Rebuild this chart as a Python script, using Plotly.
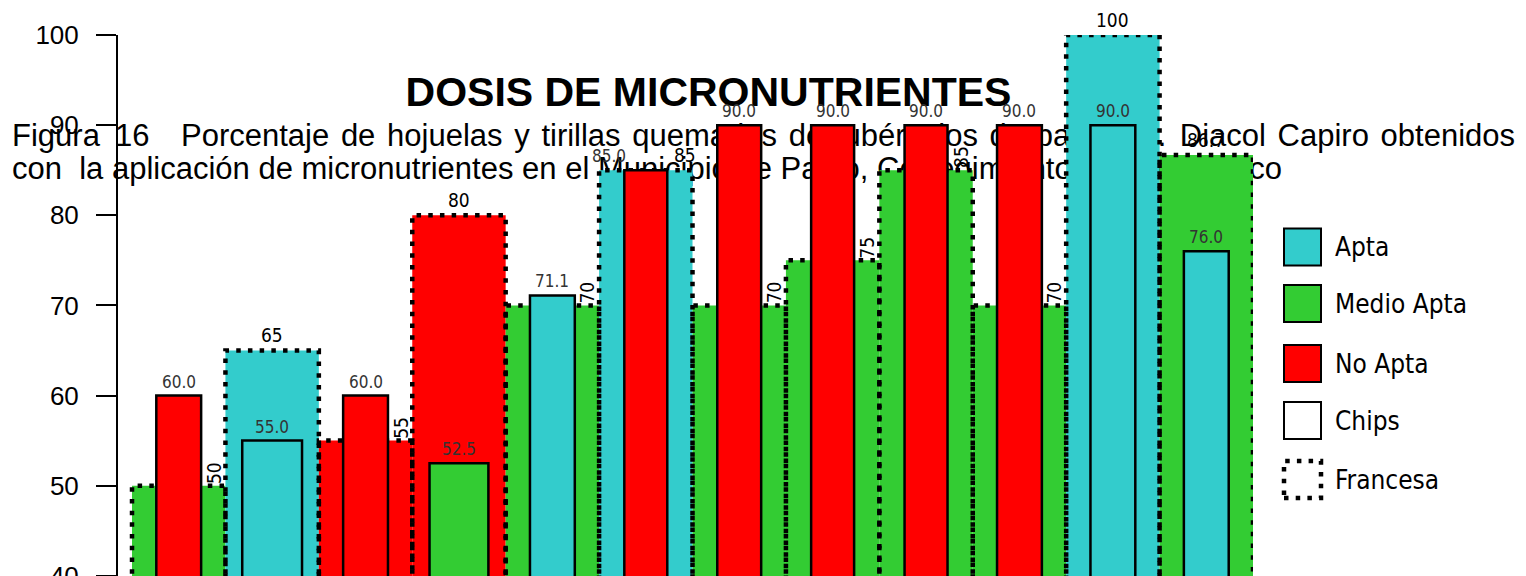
import plotly.graph_objects as go

# ---------------- data ----------------
tratamientos = list(range(1, 13))
francesa_valores = [50, 65, 55, 80, 70, 85, 70, 75, 85, 70, 100, 86.7]
francesa_clase = ["Medio Apta", "Apta", "No Apta", "No Apta", "Medio Apta", "Apta",
                  "Medio Apta", "Medio Apta", "Medio Apta", "Medio Apta", "Apta", "Medio Apta"]
chips_valores = [60.0, 55.0, 60.0, 52.5, 71.1, 85.0, 90.0, 90.0, 90.0, 90.0, 90.0, 76.0]
chips_clase = ["No Apta", "Apta", "No Apta", "Medio Apta", "Apta", "No Apta",
               "No Apta", "No Apta", "No Apta", "No Apta", "Apta", "Apta"]
clases = ["Apta", "Medio Apta", "No Apta"]
series = ["Chips", "Francesa"]
y_ticks = [40, 50, 60, 70, 80, 90, 100]
titulo = "DOSIS DE MICRONUTRIENTES"
pie_linea1_resto = "Porcentaje de hojuelas y tirillas quemadas de tubérculos de papa var. Diacol Capiro obtenidos"
pie_linea2 = "con\u00a0 la aplicación de micronutrientes en el Municipio de Pasto, Corregimiento de Catambuco"

# ---------------- style ----------------
colores = {"Apta": "#33CCCC", "Medio Apta": "#33CC33", "No Apta": "#FF0000"}
chips_ancho = [0.48, 0.64, 0.48, 0.63, 0.48, 0.46, 0.47, 0.46, 0.46, 0.48, 0.48, 0.48]
modo_etiqueta_francesa = ["rot", "top", "rot", "top", "rot", "right",
                          "rot", "rot", "rot", "rot", "top", "top"]
desplaz_etiqueta_chips = [0, 0, 0, 0, 0, -37, 0, 0, 0, 0, 0, 0]
NARROW = "Liberation Sans Narrow, Arial Narrow, DejaVu Sans Condensed, sans-serif"
ARIAL = "Liberation Sans, Arial, sans-serif"
DOT = "4.5px,7.2px"

OFF = 8  # page body margin of the html page
W, H = 1526, 576
ML, MR, MT, MB = 118 - OFF, 1526 - 1253 + OFF, 35 - OFF, OFF
XMIN, XMAX = 0.35, 12.5
YMIN, YMAX = 39.98, 100
PW, PH = W - ML - MR, H - MT - MB


def px_x(p):  # screen pixel -> paper
    return (p - OFF - ML) / PW


def px_y(p):
    return (H - MB - (p - OFF)) / PH


# Arial / Liberation Sans advance widths (per 1000 em)
AW = dict(zip("abcdefghijklmnopqrstuvwxyz",
              [556, 556, 500, 556, 556, 278, 556, 556, 222, 222, 500, 222, 833,
               556, 556, 556, 556, 333, 500, 278, 556, 500, 722, 500, 500, 500]))
AW.update({"é": 556, "ó": 556, ".": 278, ",": 278, " ": 278, "D": 722, "C": 722,
           "P": 667, "F": 611, "M": 833, "1": 556, "6": 556})


def ancho(txt, size):
    return sum(AW.get(c, 556) for c in txt) * size / 1000.0


fig = go.Figure()

# Francesa bars (wide)
fig.add_trace(go.Bar(
    x=tratamientos, y=francesa_valores, width=1.0, name=series[1],
    marker=dict(color=[colores[c] for c in francesa_clase], line=dict(width=0)),
    showlegend=False, hoverinfo="skip"))

# dotted outline of Francesa bars
bx, by = [], []
for t, v in zip(tratamientos, francesa_valores):
    bx += [t - 0.5, t - 0.5, t + 0.5, t + 0.5, None]
    by += [0, v, v, 0, None]
fig.add_trace(go.Scatter(
    x=bx, y=by, mode="lines", line=dict(color="black", width=4.5, dash=DOT),
    cliponaxis=False, showlegend=False, hoverinfo="skip"))

# Chips bars (narrow) on an overlaid subplot so they sit above the outlines
fig.add_trace(go.Bar(
    x=tratamientos, y=chips_valores, width=chips_ancho, name=series[0],
    xaxis="x2", yaxis="y2",
    marker=dict(color=[colores[c] for c in chips_clase], line=dict(color="black", width=2.5)),
    showlegend=False, hoverinfo="skip"))

annotations = []
# chips labels
for t, v, dx in zip(tratamientos, chips_valores, desplaz_etiqueta_chips):
    annotations.append(dict(
        x=t, y=v, xref="x", yref="y", text=f"{v:.1f}", showarrow=False,
        yanchor="bottom", xanchor="center", yshift=2, xshift=dx,
        font=dict(family=NARROW, size=17, color="#333333")))
# francesa labels
for t, v, modo in zip(tratamientos, francesa_valores, modo_etiqueta_francesa):
    txt = f"{v:g}"
    base = dict(y=v, xref="x", yref="y", text=txt, showarrow=False,
                font=dict(family=NARROW, size=19, color="black"))
    if modo == "top":
        base.update(x=t, xanchor="center", yanchor="bottom", yshift=2)
    elif modo == "rot":
        base.update(x=t + 0.5, xanchor="right", yanchor="bottom", textangle=-90, xshift=1)
    else:
        base.update(x=t + 0.5, xanchor="right", yanchor="bottom", xshift=5, yshift=2)
    annotations.append(base)

shapes = []


def texto_abajo(txt, x_left, baseline, size, bold=False, anchor="left"):
    w = ancho(txt, size)
    cy = baseline - 0.40 * size
    if anchor == "left":
        x0, x1, pos = x_left, x_left + w + 4, "middle left"
    else:
        x0, x1, pos = x_left - w / 2 - 4, x_left + w / 2 + 4, "middle center"
    shapes.append(dict(
        type="rect", xref="paper", yref="paper", layer="below",
        x0=px_x(x0), x1=px_x(x1), y0=px_y(cy + size / 2), y1=px_y(cy - size / 2),
        line=dict(width=0), fillcolor="rgba(0,0,0,0)",
        label=dict(text=txt, textposition=pos, padding=0,
                   font=dict(family=ARIAL, size=size, color="black",
                             weight="bold" if bold else "normal"))))


# caption (behind the bars)
CAP = 31
texto_abajo("Figura", 9, 145, CAP)
texto_abajo("16", 112, 145, CAP)
palabras = pie_linea1_resto.split()
ws = [ancho(p, CAP) for p in palabras]
gap = (1512 - 178 - sum(ws)) / (len(palabras) - 1)
xp = 178
for p, w in zip(palabras, ws):
    texto_abajo(p, xp, 145, CAP)
    xp += w + gap
texto_abajo(pie_linea2, 9, 178, CAP)

# title
texto_abajo(titulo, 708.5, 104, 41, bold=True, anchor="center")

# legend (drawn manually)
leg_items = [(clases[0], colores["Apta"], "solid"),
             (clases[1], colores["Medio Apta"], "solid"),
             (clases[2], colores["No Apta"], "solid"),
             (series[0], "white", "solid"),
             (series[1], "white", DOT)]
leg_cy = [247, 303.5, 363.5, 420.5, 479.5]
for (name, col, dash), cy in zip(leg_items, leg_cy):
    shapes.append(dict(
        type="rect", xref="paper", yref="paper", layer="above",
        x0=px_x(1284), x1=px_x(1321), y0=px_y(cy + 18.5), y1=px_y(cy - 18.5),
        fillcolor=col,
        line=dict(color="black", width=4.5 if dash != "solid" else 2, dash=dash)))
    annotations.append(dict(
        x=px_x(1333), y=px_y(cy), xref="paper", yref="paper", text=name,
        showarrow=False, xanchor="left", yanchor="middle",
        font=dict(family=NARROW, size=26, color="black")))

fig.update_layout(
    width=W, height=H,
    margin=dict(l=ML, r=MR, t=MT, b=MB, pad=0, autoexpand=False),
    paper_bgcolor="white", plot_bgcolor="rgba(0,0,0,0)",
    barmode="overlay", showlegend=False,
    xaxis=dict(range=[XMIN, XMAX], visible=False, showgrid=False, zeroline=False,
               automargin=False),
    xaxis2=dict(range=[XMIN, XMAX], overlaying="x", visible=False),
    yaxis=dict(range=[YMIN, YMAX], tickvals=y_ticks, ticktext=[str(v) for v in y_ticks],
               showline=True, linecolor="black", linewidth=2,
               ticks="outside", ticklen=20, tickwidth=2, tickcolor="black",
               ticklabelstandoff=12, ticklabeloverflow="allow", automargin=False,
               tickfont=dict(family=ARIAL, size=26, color="black"),
               showgrid=False, zeroline=False),
    yaxis2=dict(range=[YMIN, YMAX], overlaying="y", visible=False),
    annotations=annotations,
    shapes=shapes,
)

fig.write_html("out.html")
